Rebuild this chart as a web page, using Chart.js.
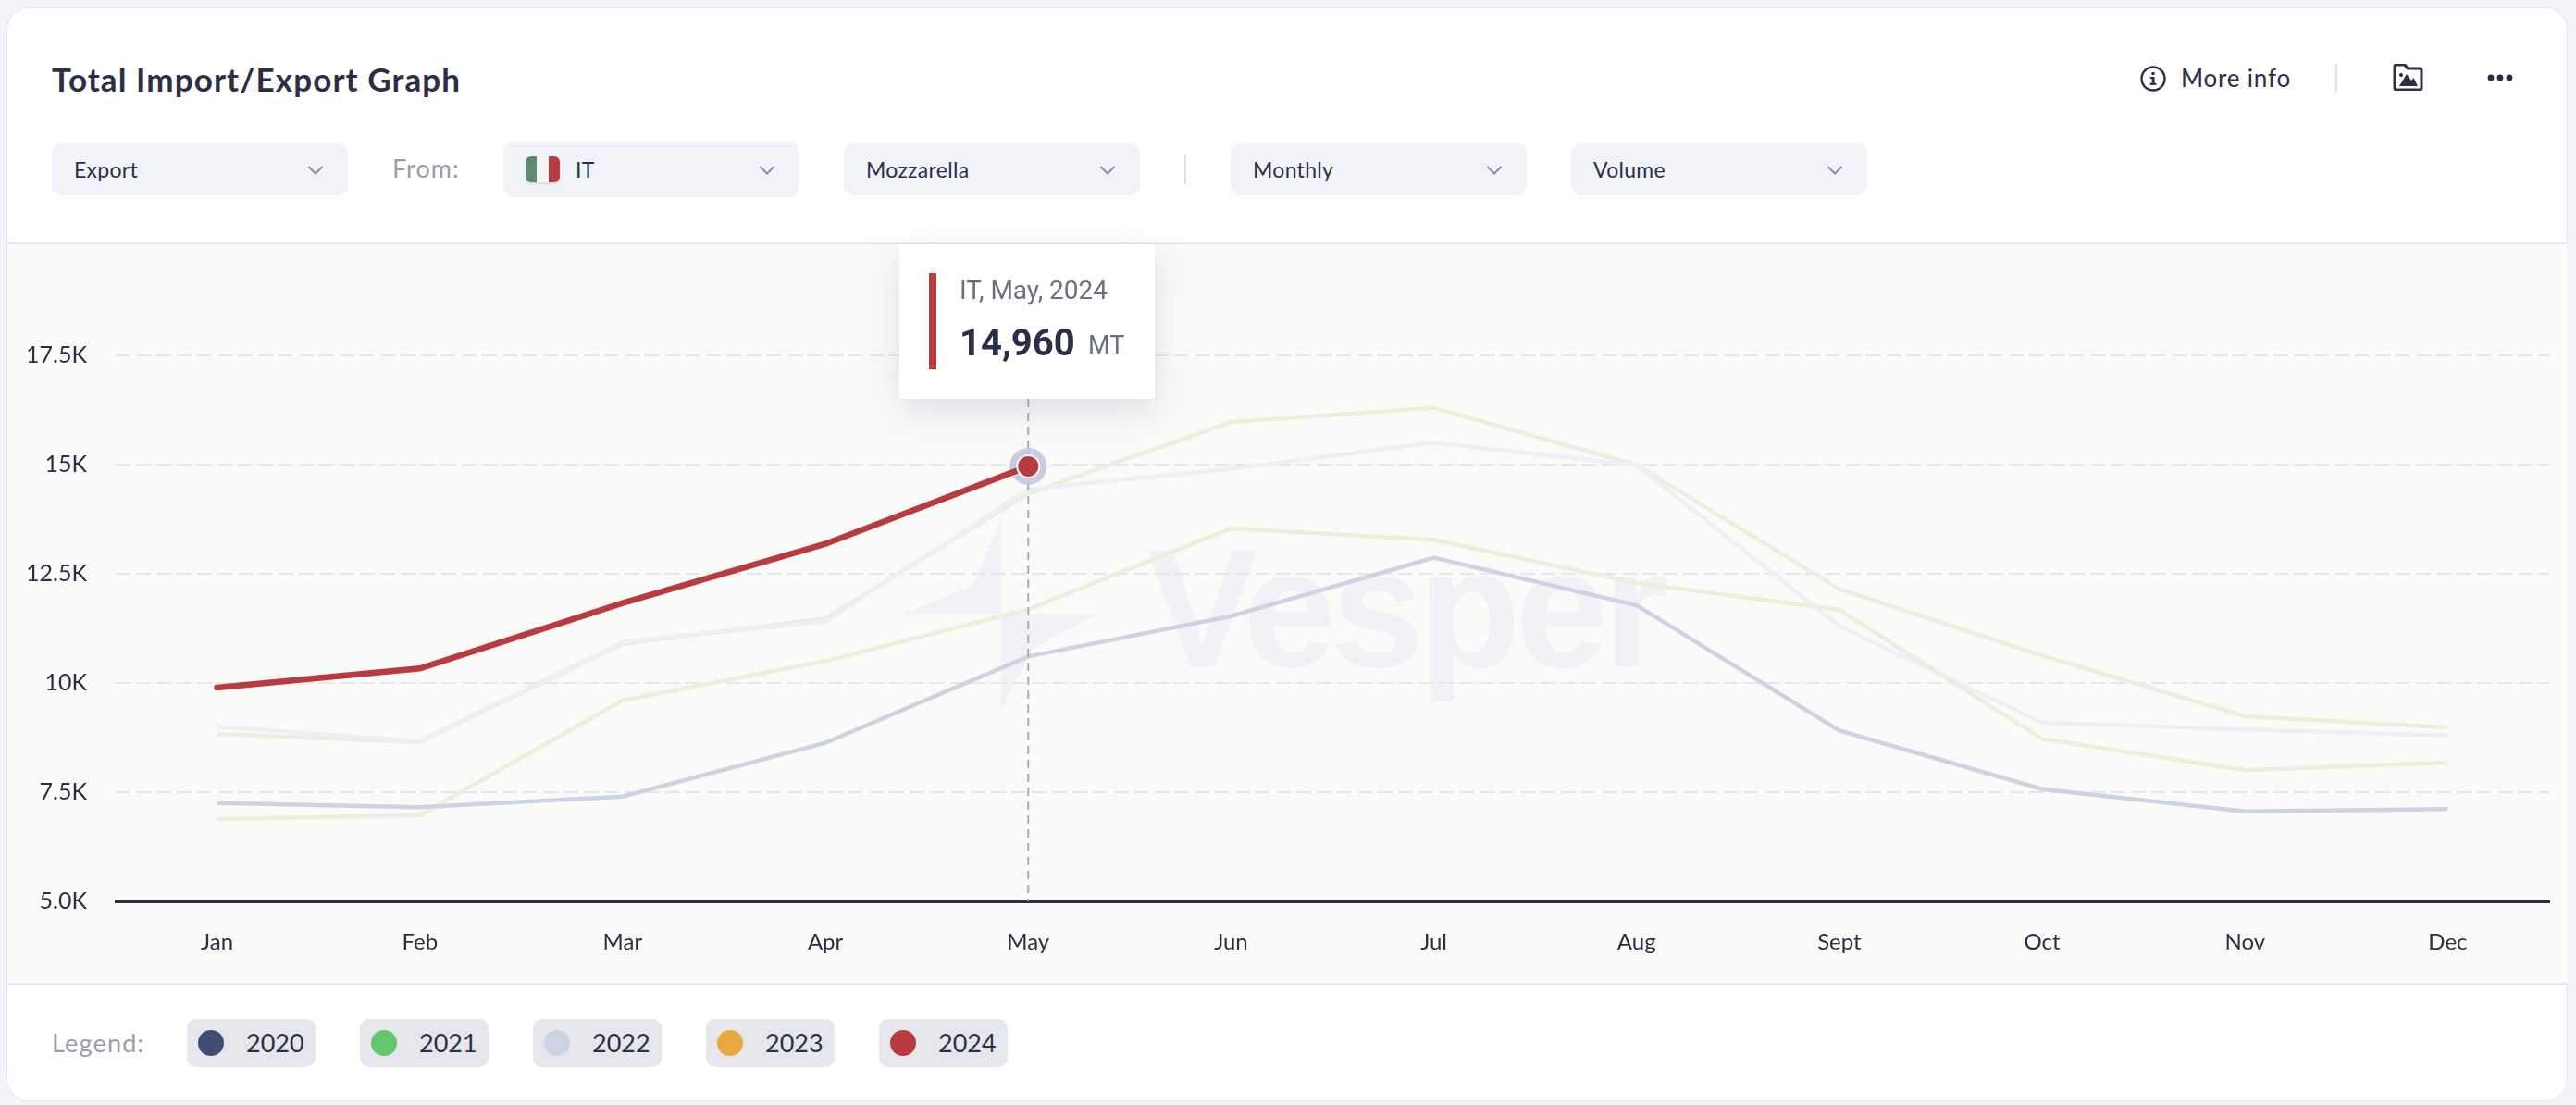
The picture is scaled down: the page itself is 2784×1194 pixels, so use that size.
<!DOCTYPE html>
<html>
<head>
<meta charset="utf-8">
<title>Total Import/Export Graph</title>
<script src="https://cdn.jsdelivr.net/npm/chart.js@4/dist/chart.umd.min.js"></script>
<style>
    html, body { margin: 0; padding: 0; }
    body { width: 2784px; height: 1194px; background: #f1f5f8; font-family: Lato, sans-serif; color: #2b2f45; overflow: hidden; position: relative; }
    .card { position: absolute; left: 7px; top: 8px; width: 2766px; height: 1180px; background: #fff; border: 1px solid #e6e8ee; border-radius: 24px; overflow: hidden; }
    .abs { position: absolute; white-space: nowrap; }
    .title { left: 56px; top: 63px; font-size: 35px; line-height: 44px; font-weight: 700; letter-spacing: 1.1px; }
    .drop { position: absolute; background: #f0f3f7; border-radius: 11px; height: 56px; top: 155px; font-size: 23px; line-height: 56px; box-sizing: border-box; padding-left: 24px; letter-spacing: 0.3px; }
    .drop svg { position: absolute; top: 24px; }
    .sep { position: absolute; width: 2px; background: #dcdfe6; }
    .panel { position: absolute; left: 8px; top: 262px; width: 2767px; height: 802px; background: #fafaf8; border-top: 2px solid #e6e7ec; border-bottom: 2px solid #e6e7ec; box-sizing: border-box; }
    #watermark { position: absolute; left: 0; top: 0; }
    #chart { position: absolute; left: 8px; top: 263px; }
    .tip { position: absolute; left: 972px; top: 264px; width: 276px; height: 167px; background: #fff; box-shadow: 0 12px 36px rgba(120, 130, 160, 0.22); font-family: Roboto, sans-serif; }
    .tip .bar { position: absolute; left: 32px; top: 31px; width: 8px; height: 104px; background: #b93b40; }
    .chip { position: absolute; top: 1101px; height: 52px; width: 139px; background: #e6e7ec; border-radius: 10px; font-size: 27px; line-height: 52px; }
    .chip i { position: absolute; left: 12px; top: 12px; width: 28px; height: 28px; border-radius: 50%; }
    .chip span { position: absolute; left: 64px; }
</style>
</head>
<body>
<div class="card"></div>
<div class="abs title">Total Import/Export Graph</div>

<div class="drop" style="left:56px;width:320px">Export</div>
<div class="abs" style="left:424px;top:162px;font-size:27px;line-height:40px;letter-spacing:1px;color:#9a9da9">From:</div>
<div class="drop" style="left:544px;width:320px;top:153px;height:60px;line-height:60px;padding-left:78px">IT
    <div style="position:absolute;left:24px;top:16px;width:37px;height:28px;border-radius:6px;overflow:hidden;display:flex;box-shadow:0 2px 2px #d5d8e0">
        <div style="flex:1;background:#5f8a6c"></div><div style="flex:1;background:#f3f4f6"></div><div style="flex:1;background:#b93b40"></div>
    </div>
</div>
<div class="drop" style="left:912px;width:320px">Mozzarella</div>
<div class="sep" style="left:1280px;top:167px;height:32px"></div>
<div class="drop" style="left:1330px;width:320px">Monthly</div>
<div class="drop" style="left:1698px;width:320px">Volume</div>

<svg class="abs" style="left:2313px;top:71px" width="28" height="28" viewBox="0 0 28 28">
    <circle cx="14" cy="14" r="12.5" fill="none" stroke="#2b2f45" stroke-width="2.4"/>
    <rect x="12.6" y="12" width="3" height="8.5" fill="#2b2f45"/><rect x="10.5" y="18.8" width="7" height="2" fill="#2b2f45"/>
    <rect x="10.8" y="12" width="3" height="2" fill="#2b2f45"/><circle cx="14" cy="8.5" r="1.8" fill="#2b2f45"/>
</svg>
<div class="abs" style="left:2357px;top:64px;font-size:26px;line-height:40px;letter-spacing:0.8px">More info</div>
<div class="sep" style="left:2524px;top:69px;height:31px"></div>
<svg class="abs" style="left:2586px;top:69px" width="33" height="29" viewBox="0 0 33 29">
    <path d="M2 3 a2 2 0 0 1 2-2 h9 l3 4 h13 a2 2 0 0 1 2 2 v19 a2 2 0 0 1-2 2 H4 a2 2 0 0 1-2-2 Z" fill="none" stroke="#2b2f45" stroke-width="3"/>
    <path d="M7 24 L15 11 L20 18 L22.5 15 L27 24 Z" fill="#2b2f45"/><circle cx="9" cy="12" r="2" fill="#2b2f45"/>
</svg>
<svg class="abs" style="left:2688px;top:80px" width="28" height="8" viewBox="0 0 28 8">
    <circle cx="4" cy="4" r="3.4" fill="#2b2f45"/><circle cx="14" cy="4" r="3.4" fill="#2b2f45"/><circle cx="24" cy="4" r="3.4" fill="#2b2f45"/>
</svg>

<div class="panel"></div>

<svg id="watermark" width="2784" height="1194">
    <path d="M1082 560 L1082 663 L977 663 L1052 632 Z" fill="#f0f3f6"/>
    <path d="M1082 767 L1082 663 L1187 663 L1117 700 Z" fill="#f0f3f6"/>
    <text x="1239" y="720" font-family="Liberation Sans" font-weight="700" font-size="181" letter-spacing="-6" fill="#f0f3f6">Vesper</text>
</svg>

<canvas id="chart" width="2767" height="801"></canvas>

<div class="tip">
    <div class="bar"></div>
    <div class="abs" style="left:65px;top:30px;font-size:28px;line-height:40px;color:#66727f">IT, May, 2024</div>
    <div class="abs" style="left:65px;top:80px;font-size:40px;line-height:54px;font-weight:700;color:#2b2f45">14,960</div>
    <div class="abs" style="left:204px;top:87px;font-size:27px;line-height:44px;color:#66727f">MT</div>
</div>

<div class="abs" style="left:56px;top:1107px;font-size:27px;line-height:40px;letter-spacing:1.2px;color:#9a9da9">Legend:</div>
<div id="legend"></div>

<script>
const months = ['Jan', 'Feb', 'Mar', 'Apr', 'May', 'Jun', 'Jul', 'Aug', 'Sept', 'Oct', 'Nov', 'Dec'];
const yTickLabels = ['5.0K', '7.5K', '10K', '12.5K', '15K', '17.5K'];
const years = ['2020', '2021', '2022', '2023', '2024'];
const legendColors = ['#3f4c74', '#64c76b', '#cdd3e3', '#e9a83d', '#b93b40'];
const lineColors = ['#edf0f6', '#ecefdc', '#cdd3e3', '#ecefdc', '#b93b40'];

const values2020 = [8997, 8665, 10946, 11405, 14442, 14900, 15501, 14985, 11299, 9095, 8934, 8799];
const values2021 = [8835, 8650, 10896, 11476, 14336, 15974, 16299, 14995, 12146, 10629, 9237, 8983];
const values2022 = [7252, 7154, 7401, 8630, 10607, 11532, 12867, 11780, 8912, 7570, 7062, 7111];
const values2023 = [6886, 6970, 9604, 10502, 11688, 13538, 13277, 12288, 11673, 8722, 8002, 8178];
const values2024 = [9894, 10332, 11829, 13185, 14960, null, null, null, null, null, null, null];

const hoverIndex = 4;
const tooltipBottom = 431 - 263; // canvas px, bottom edge of the tooltip box

// chevrons on the dropdowns
document.querySelectorAll('.drop').forEach(function(el) {
    const w = parseInt(el.style.width);
    const off = el.style.top ? 2 : 0;
    el.insertAdjacentHTML('beforeend', '<svg width="18" height="10" viewBox="0 0 18 10" style="left:' + (w - 44) + 'px;top:' + (off + 24) + 'px"><path d="M1.5 1 L9 8.5 L16.5 1" fill="none" stroke="#8a8f9c" stroke-width="2"/></svg>');
});

// legend chips
const chipLeft = [202, 389, 576, 763, 950];
document.getElementById('legend').innerHTML = years.map(function(y, i) {
    return '<div class="chip" style="left:' + chipLeft[i] + 'px"><i style="background:' + legendColors[i] + '"></i><span>' + y + '</span></div>';
}).join('');

// dashed hover line and halo, drawn under the red line
const hoverMark = {
    id: 'hoverMark',
    beforeDatasetDraw(chart, args) {
        if (args.index !== 0) return;
        const ctx = chart.ctx;
        const x = chart.scales.x.getPixelForValue(hoverIndex);
        const y = chart.scales.y.getPixelForValue(values2024[hoverIndex]);
        ctx.save();
        ctx.strokeStyle = '#a9acb8';
        ctx.lineWidth = 2;
        ctx.setLineDash([9, 6]);
        ctx.beginPath();
        ctx.moveTo(x, tooltipBottom);
        ctx.lineTo(x, chart.scales.y.bottom);
        ctx.stroke();
        ctx.setLineDash([]);
        ctx.fillStyle = 'rgba(190, 197, 216, 0.85)';
        ctx.beginPath();
        ctx.arc(x, y, 20, 0, Math.PI * 2);
        ctx.fill();
        ctx.restore();
    }
};

new Chart(document.getElementById('chart'), {
    type: 'line',
    plugins: [hoverMark],
    data: {
        labels: months,
        datasets: [
            { label: years[4], data: values2024, borderColor: lineColors[4], borderWidth: 6.5, borderCapStyle: 'round',
              backgroundColor: lineColors[4], pointBorderColor: '#fff', pointBorderWidth: 2,
              pointRadius: function(c) { return c.dataIndex === hoverIndex ? 12 : 0; } },
            { label: years[2], data: values2022, borderColor: lineColors[2], borderWidth: 4.5, pointRadius: 0 },
            { label: years[3], data: values2023, borderColor: lineColors[3], borderWidth: 4.5, pointRadius: 0 },
            { label: years[0], data: values2020, borderColor: lineColors[0], borderWidth: 4.5, pointRadius: 0 },
            { label: years[1], data: values2021, borderColor: lineColors[1], borderWidth: 4.5, pointRadius: 0 }
        ]
    },
    options: {
        responsive: false,
        animation: false,
        devicePixelRatio: 1,
        layout: { padding: { left: 0, right: 20, top: 3, bottom: 0 } },
        plugins: { legend: { display: false }, tooltip: { enabled: false } },
        scales: {
            x: {
                offset: true,
                afterFit: function(s) { s.height = 90; },
                grid: { display: false, drawTicks: false },
                border: { display: true, color: '#2b2f45', width: 3 },
                ticks: { color: '#2b2f45', padding: 30, maxRotation: 0, autoSkip: false, font: { family: 'Lato', size: 24 } }
            },
            y: {
                min: 5000,
                max: 20000,
                afterFit: function(s) { s.width = 117; s.paddingTop = 0; s.paddingBottom = 0; },
                grid: {
                    drawTicks: false,
                    lineWidth: 2,
                    color: function(c) { return c.tick && (c.tick.value === 5000 || c.tick.value === 20000) ? 'transparent' : '#e6e7ee'; }
                },
                border: { display: false, dash: [16, 6] },
                ticks: {
                    stepSize: 2500,
                    padding: 31,
                    color: '#2b2f45',
                    font: { family: 'Lato', size: 25 },
                    callback: function(v, i) { return yTickLabels[i]; }
                }
            }
        }
    }
});
</script>
</body>
</html>
